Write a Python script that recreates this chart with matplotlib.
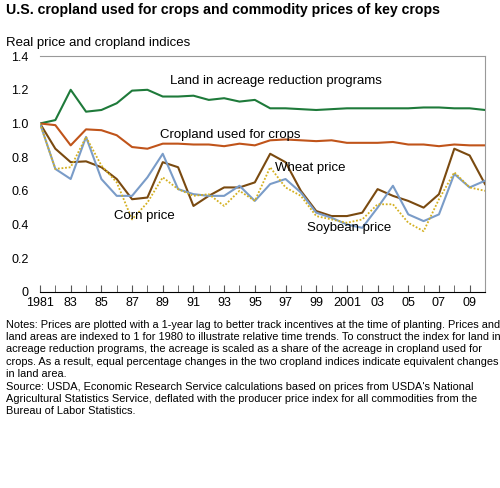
import matplotlib
matplotlib.use("Agg")
import matplotlib.pyplot as plt

YEARS = list(range(1981, 2011))
LAND_ARP = [1.0, 1.02, 1.2, 1.07, 1.08, 1.12, 1.195, 1.2, 1.16, 1.16, 1.165, 1.14, 1.15, 1.13, 1.14,
            1.09, 1.09, 1.085, 1.08, 1.085, 1.09, 1.09, 1.09, 1.09, 1.09, 1.095, 1.095, 1.09, 1.09, 1.08]
CROPLAND = [1.0, 0.99, 0.87, 0.965, 0.96, 0.93, 0.86, 0.85, 0.88, 0.88, 0.875, 0.875, 0.865, 0.88, 0.87,
            0.9, 0.905, 0.9, 0.895, 0.9, 0.885, 0.885, 0.885, 0.89, 0.875, 0.875, 0.865, 0.875, 0.87, 0.87]
WHEAT = [1.0, 0.85, 0.77, 0.775, 0.74, 0.67, 0.55, 0.56, 0.77, 0.74, 0.51, 0.57, 0.62, 0.62, 0.65,
         0.82, 0.77, 0.6, 0.48, 0.45, 0.45, 0.47, 0.61, 0.57, 0.54, 0.50, 0.58, 0.85, 0.81, 0.64]
CORN = [1.0, 0.73, 0.74, 0.92, 0.75, 0.65, 0.43, 0.53, 0.68, 0.61, 0.57, 0.58, 0.51, 0.60, 0.54,
        0.74, 0.62, 0.57, 0.45, 0.43, 0.41, 0.43, 0.52, 0.52, 0.41, 0.36, 0.55, 0.71, 0.62, 0.60]
SOYBEAN = [1.0, 0.73, 0.67, 0.92, 0.67, 0.57, 0.57, 0.68, 0.82, 0.61, 0.58, 0.57, 0.57, 0.63, 0.54,
           0.64, 0.67, 0.59, 0.47, 0.44, 0.40, 0.38, 0.50, 0.63, 0.46, 0.42, 0.46, 0.70, 0.62, 0.66]
XTICK_LABELS = ["1981", "83", "85", "87", "89", "91", "93", "95", "97", "99",
                "2001", "03", "05", "07", "09"]

plt.rcParams["font.family"] = ["Liberation Sans", "DejaVu Sans"]

fig = plt.figure(figsize=(5.0, 4.88), dpi=100)
ax = fig.add_axes([0.08, 0.402, 0.89, 0.483])

ax.plot(YEARS, LAND_ARP, color="#1e7a3a", lw=1.5)
ax.plot(YEARS, CROPLAND, color="#c0541a", lw=1.5)
ax.plot(YEARS, WHEAT, color="#7a4a10", lw=1.5)
ax.plot(YEARS, SOYBEAN, color="#7a9cc8", lw=1.5)
ax.plot(YEARS, CORN, color="#d4b020", lw=1.3, ls=(0, (1, 1)))

ax.text(1989.5, 1.235, "Land in acreage reduction programs", fontsize=9.5)
ax.text(1988.8, 0.915, "Cropland used for crops", fontsize=9.5)
ax.text(1996.3, 0.72, "Wheat price", fontsize=9.5)
ax.text(1985.8, 0.43, "Corn price", fontsize=9.5)
ax.text(1998.4, 0.36, "Soybean price", fontsize=9.5)

ax.set_xlim(1981, 2010)
ax.set_ylim(0, 1.4)
ax.set_yticks([0, 0.2, 0.4, 0.6, 0.8, 1.0, 1.2, 1.4])
ax.set_yticklabels(["0", "0.2", "0.4", "0.6", "0.8", "1.0", "1.2", "1.4"], fontsize=9)
ax.set_xticks(YEARS, minor=True)
ax.set_xticks(YEARS[::2])
ax.set_xticklabels(XTICK_LABELS, fontsize=9)
ax.tick_params(axis="y", length=0, pad=8)
ax.tick_params(axis="x", which="both", direction="in", length=5, color="#555555")
for side in ("top", "right"):
    ax.spines[side].set_color("#999999")
ax.spines["left"].set_visible(False)

fig.text(0.012, 0.972, "U.S. cropland used for crops and commodity prices of key crops",
         fontsize=10.2, fontweight="bold")
fig.text(0.012, 0.906, "Real price and cropland indices", fontsize=9.5)

notes = ("Notes: Prices are plotted with a 1-year lag to better track incentives at the time of planting. Prices and\n"
         "land areas are indexed to 1 for 1980 to illustrate relative time trends. To construct the index for land in\n"
         "acreage reduction programs, the acreage is scaled as a share of the acreage in cropland used for\n"
         "crops. As a result, equal percentage changes in the two cropland indices indicate equivalent changes\n"
         "in land area.\n"
         "Source: USDA, Economic Research Service calculations based on prices from USDA's National\n"
         "Agricultural Statistics Service, deflated with the producer price index for all commodities from the\n"
         "Bureau of Labor Statistics.")
fig.text(0.012, 0.345, notes, fontsize=7.9, va="top", linespacing=1.3)

fig.savefig("out.png", dpi=100)
